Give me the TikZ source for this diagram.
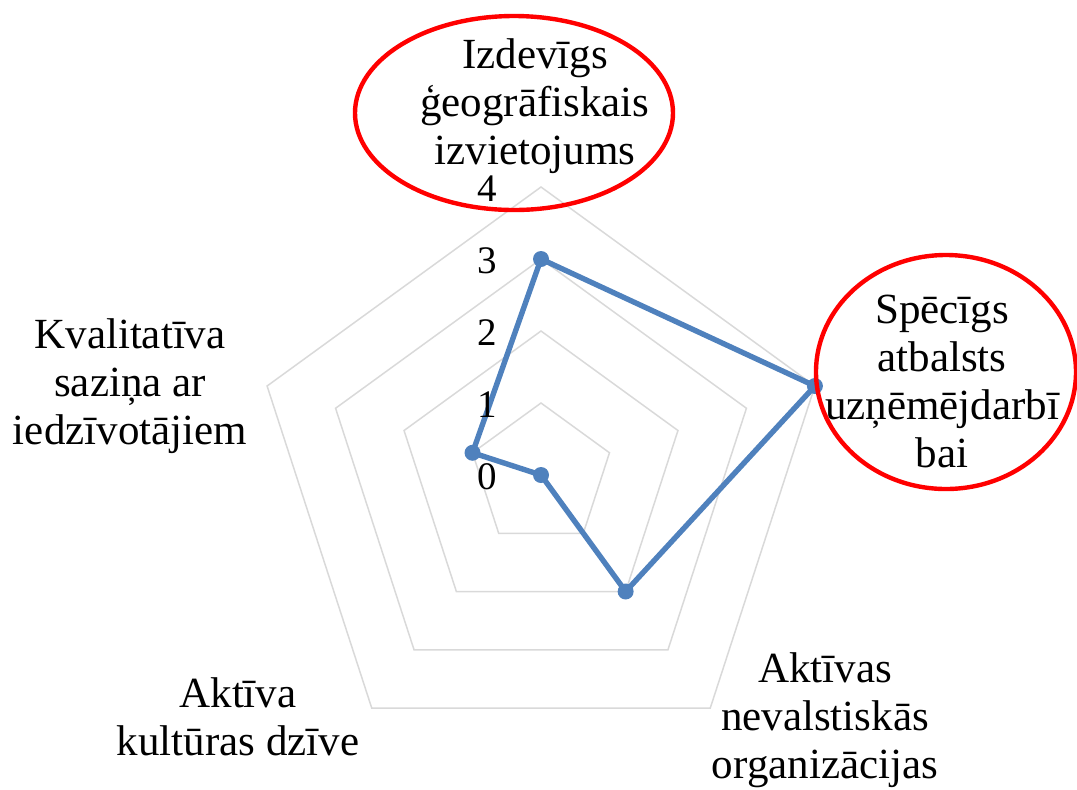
\documentclass[tikz,border=0pt]{standalone}
\usepackage{fontspec}
\setmainfont{Liberation Serif}
\definecolor{serblue}{HTML}{4F81BD}
\definecolor{gridgray}{HTML}{D9D9D9}
\begin{document}
\begin{tikzpicture}[x=0.5pt,y=-0.5pt,
  lbl/.style={align=center,font=\fontsize{21.5}{24}\selectfont,inner sep=0pt,anchor=base},
  lvl/.style={font=\fontsize{19.5}{22}\selectfont,inner sep=0pt,anchor=base east},
  gridline/.style={draw=gridgray,line width=0.75pt,line join=miter},
  serline/.style={draw=serblue,line width=2.7pt,line join=round},
  dot/.style={circle,fill=serblue,inner sep=0pt,minimum size=8pt},
  hl/.style={draw=red,line width=2.2pt}]
\useasboundingbox (0,0) rectangle (1077,789);
\coordinate (C) at (541,475);
% grid
\begin{scope}[shift={(C)}]
\foreach \k in {1,2,3,4}{
  \draw[gridline] (-90:72*\k) -- (-18:72*\k) -- (54:72*\k) -- (126:72*\k) -- (198:72*\k) -- cycle;
}
% data points
\coordinate (p1) at (-90:216);
\coordinate (p2) at (-18:288);
\coordinate (p3) at (54:144);
\coordinate (p4) at (126:0);
\coordinate (p5) at (198:72);
\end{scope}
\draw[serline] (p1) -- (p2) -- (p3) -- (p4) -- (p5) -- cycle;
\foreach \p in {p1,p2,p3,p4,p5}{ \node[dot] (d\p) at (\p) {}; }
% level labels
\node[lvl] (l0) at (497,489) {0};
\node[lvl] (l1) at (497,417) {1};
\node[lvl] (l2) at (497,345) {2};
\node[lvl] (l3) at (497,273) {3};
\node[lvl] (l4) at (497,201) {4};
% category labels (anchor = baseline of last line)
\node[lbl] (tA) at (535,164) {Izdevīgs\\ ģeogrāfiskais\\ izvietojums};
\node[lbl] (tB) at (942,467) {Spēcīgs\\ atbalsts\\ uzņēmējdarbī\\ bai};
\node[lbl] (tC) at (825,778) {Aktīvas\\ nevalstiskās\\ organizācijas};
\node[lbl] (tD) at (238,755) {Aktīva\\ kultūras dzīve};
\node[lbl] (tE) at (130,444) {Kvalitatīva\\ saziņa ar\\ iedzīvotājiem};
% highlight ellipses
\draw[hl] (514,113) ellipse [x radius=159, y radius=97];
\draw[hl] (946,372) ellipse [x radius=130, y radius=117];
\end{tikzpicture}
\end{document}
